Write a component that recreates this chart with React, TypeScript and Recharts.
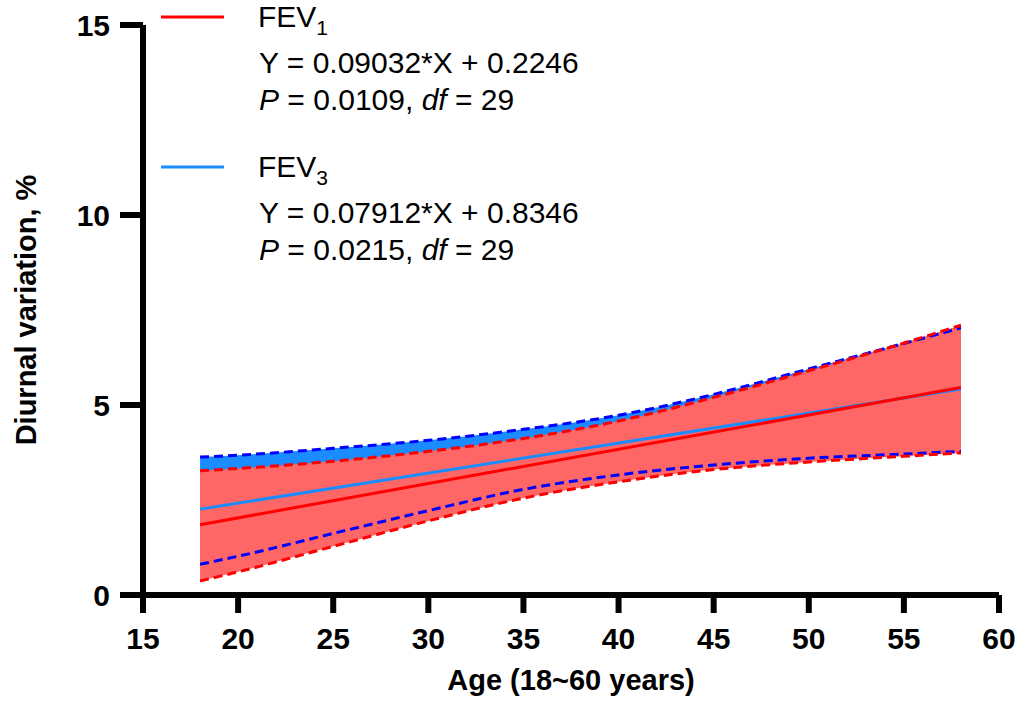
import React from 'react';
import { ComposedChart, Area, Line, XAxis, YAxis } from 'recharts';

const FONT = '"Liberation Sans", Arial, Helvetica, sans-serif';

const ages = [18, 20, 25, 30, 35, 40, 45, 50, 55, 58];
const fev1Upper = [3.27, 3.33, 3.52, 3.78, 4.12, 4.58, 5.2, 5.9, 6.63, 7.1];
const fev1Lower = [0.37, 0.61, 1.28, 1.95, 2.55, 2.98, 3.3, 3.5, 3.65, 3.74];
const fev3Upper = [3.63, 3.68, 3.86, 4.07, 4.36, 4.73, 5.28, 5.95, 6.62, 7.03];
const fev3Lower = [0.81, 1.02, 1.62, 2.22, 2.78, 3.16, 3.42, 3.6, 3.71, 3.78];

// fitted lines, end points only
const fitAges = [18, 58];
const fev1Fit = [1.85, 5.46];
const fev3Fit = [2.26, 5.42];

const xTicks = [15, 20, 25, 30, 35, 40, 45, 50, 55, 60];
const yTicks = [0, 5, 10, 15];

const RED = '#ff0000';
const RED_FILL = '#ff6666';
const BLUE = '#1a8cff';
const BLUE_DASH = '#0000ff';

const rows = ages.map((age, i) => {
  const f = fitAges.indexOf(age);
  return {
    age,
    f1U: fev1Upper[i],
    f1L: fev1Lower[i],
    f3U: fev3Upper[i],
    f3L: fev3Lower[i],
    fit1: f >= 0 ? fev1Fit[f] : undefined,
    fit3: f >= 0 ? fev3Fit[f] : undefined,
  };
});

const tickStyle = { fill: '#000', fontSize: 30, fontWeight: 700, fontFamily: FONT };
const axisStroke = { stroke: '#000', strokeWidth: 6 };

function LegendBlock({ y, color, sub, eq, p }: { y: number; color: string; sub: string; eq: string; p: string }) {
  return (
    <g>
      <line x1={161} x2={224} y1={y} y2={y} stroke={color} strokeWidth={3} />
      <text x={258} y={y + 10} fontSize={30}>
        FEV<tspan fontSize={21} dy={8}>{sub}</tspan>
      </text>
      <text x={259} y={y + 56} fontSize={30}>{eq}</text>
      <text x={259} y={y + 93} fontSize={30}>
        <tspan fontStyle="italic">P</tspan>
        {` = ${p}, `}
        <tspan fontStyle="italic">df</tspan>
        {' = 29'}
      </text>
    </g>
  );
}

export default function App() {
  return (
    <div style={{ position: 'absolute', left: 0, top: 0, width: 1020, height: 702, background: '#fff' }}>
      <ComposedChart width={1020} height={702} data={rows} margin={{ top: 25, right: 21, bottom: 0, left: 0 }}>
        <XAxis
          type="number"
          dataKey="age"
          domain={[15, 60]}
          ticks={xTicks}
          allowDataOverflow
          height={107}
          tick={tickStyle}
          tickSize={18}
          tickMargin={15}
          axisLine={axisStroke}
          tickLine={axisStroke}
          label={{
            value: 'Age (18~60 years)',
            position: 'insideBottom',
            offset: 12,
            style: { fill: '#000', fontSize: 29, fontWeight: 700, fontFamily: FONT },
          }}
        />
        <YAxis
          type="number"
          domain={[0, 15]}
          ticks={yTicks}
          allowDataOverflow
          width={143}
          tick={tickStyle}
          tickSize={23}
          tickMargin={10}
          axisLine={axisStroke}
          tickLine={axisStroke}
          label={{
            value: 'Diurnal variation, %',
            angle: -90,
            position: 'insideLeft',
            offset: 26,
            style: { textAnchor: 'middle', fill: '#000', fontSize: 29, fontWeight: 700, fontFamily: FONT },
          }}
        />
        <Area
          name="FEV3 band"
          dataKey={(d: any) => [d.f3L, d.f3U]}
          type="monotone"
          stroke="none"
          fill={BLUE}
          fillOpacity={1}
          isAnimationActive={false}
          dot={false}
          activeDot={false}
        />
        <Area
          name="FEV1 band"
          dataKey={(d: any) => [d.f1L, d.f1U]}
          type="monotone"
          stroke="none"
          fill={RED_FILL}
          fillOpacity={1}
          isAnimationActive={false}
          dot={false}
          activeDot={false}
        />
        <Line dataKey="f3U" type="monotone" stroke={BLUE_DASH} strokeWidth={3} strokeDasharray="9 5" dot={false} activeDot={false} isAnimationActive={false} />
        <Line dataKey="f3L" type="monotone" stroke={BLUE_DASH} strokeWidth={3} strokeDasharray="9 5" dot={false} activeDot={false} isAnimationActive={false} />
        <Line dataKey="f1U" type="monotone" stroke={RED} strokeWidth={3} strokeDasharray="9 5" dot={false} activeDot={false} isAnimationActive={false} />
        <Line dataKey="f1L" type="monotone" stroke={RED} strokeWidth={3} strokeDasharray="9 5" dot={false} activeDot={false} isAnimationActive={false} />
        <Line dataKey="fit3" stroke={BLUE} strokeWidth={3} connectNulls dot={false} activeDot={false} isAnimationActive={false} />
        <Line dataKey="fit1" stroke={RED} strokeWidth={3} connectNulls dot={false} activeDot={false} isAnimationActive={false} />
      </ComposedChart>
      <svg
        width={1020}
        height={300}
        style={{ position: 'absolute', left: 0, top: 0, pointerEvents: 'none' }}
        fontFamily={FONT}
        fill="#000"
      >
        <LegendBlock y={17} color={RED} sub="1" eq="Y = 0.09032*X + 0.2246" p="0.0109" />
        <LegendBlock y={167} color={BLUE} sub="3" eq="Y = 0.07912*X + 0.8346" p="0.0215" />
      </svg>
    </div>
  );
}
